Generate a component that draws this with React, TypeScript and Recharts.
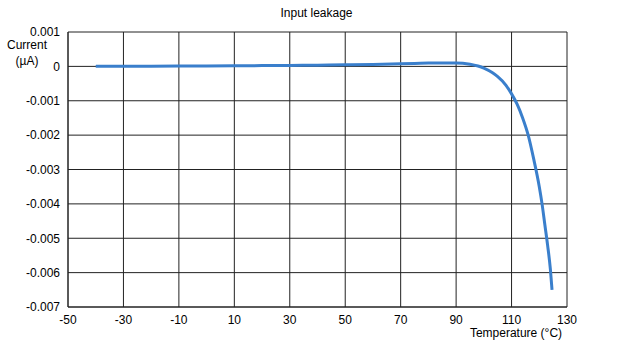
import { LineChart, Line, XAxis, YAxis, CartesianGrid } from "recharts";

const temps = [-40, -30, -20, -10, 0, 10, 20, 30, 40, 50, 60, 70, 75, 80, 85, 90, 95, 100, 103, 105, 108, 110, 112, 114, 116, 118, 120, 121, 122, 123, 124, 124.6];
const leakage = [
  0, 0.000003, 0.000006, 0.00001, 0.000014, 0.000018, 0.000022, 0.000028, 0.000035, 0.000045,
  0.000058, 0.000075, 0.000085, 0.000095, 0.0001, 0.0001, 0.00006, -0.00005, -0.00018, -0.0003,
  -0.00055, -0.0008, -0.0011, -0.0015, -0.002, -0.0027, -0.0035, -0.004, -0.0046, -0.0052,
  -0.0059, -0.0065,
];
const xTicks = [-50, -30, -10, 10, 30, 50, 70, 90, 110, 130];
const yTicks = [0.001, 0, -0.001, -0.002, -0.003, -0.004, -0.005, -0.006, -0.007];

const data = temps.map((t, i) => ({ t, v: leakage[i] }));

const font = '"Liberation Sans", Arial, sans-serif';
const tickStyle = { fontSize: 12, fill: "#000", fontFamily: font };

const fmtY = (v: number) => (Math.abs(v) < 1e-9 ? "0" : v.toFixed(3));

export default function App() {
  return (
    <div style={{ position: "absolute", left: 0, top: 0, width: 633, height: 343, background: "#fff", fontFamily: font, fontSize: 12, color: "#000" }}>
      <div style={{ position: "absolute", left: 0, width: 633, top: 6, textAlign: "center" }}>Input leakage</div>
      <div style={{ position: "absolute", left: -3, width: 60, top: 37, textAlign: "center", lineHeight: "16px" }}>
        Current
        <br />
        (µA)
      </div>
      <div style={{ position: "absolute", left: 456, width: 120, top: 326, textAlign: "center" }}>Temperature (°C)</div>
      <LineChart width={633} height={343} data={data} margin={{ top: 32, right: 66, bottom: 0, left: 0 }}>
        <CartesianGrid stroke="#222" strokeWidth={1} />
        <XAxis
          dataKey="t"
          type="number"
          domain={[-50, 130]}
          ticks={xTicks}
          interval={0}
          tickLine={false}
          tickSize={0}
          tickMargin={8}
          height={36}
          axisLine={{ stroke: "#222" }}
          tick={tickStyle}
        />
        <YAxis
          type="number"
          domain={[-0.007, 0.001]}
          ticks={yTicks}
          interval={0}
          tickFormatter={fmtY}
          tickLine={false}
          tickSize={0}
          tickMargin={8}
          width={68}
          axisLine={{ stroke: "#222" }}
          tick={tickStyle}
        />
        <Line type="monotone" dataKey="v" stroke="#3a7fcc" strokeWidth={3} dot={false} isAnimationActive={false} />
      </LineChart>
    </div>
  );
}
